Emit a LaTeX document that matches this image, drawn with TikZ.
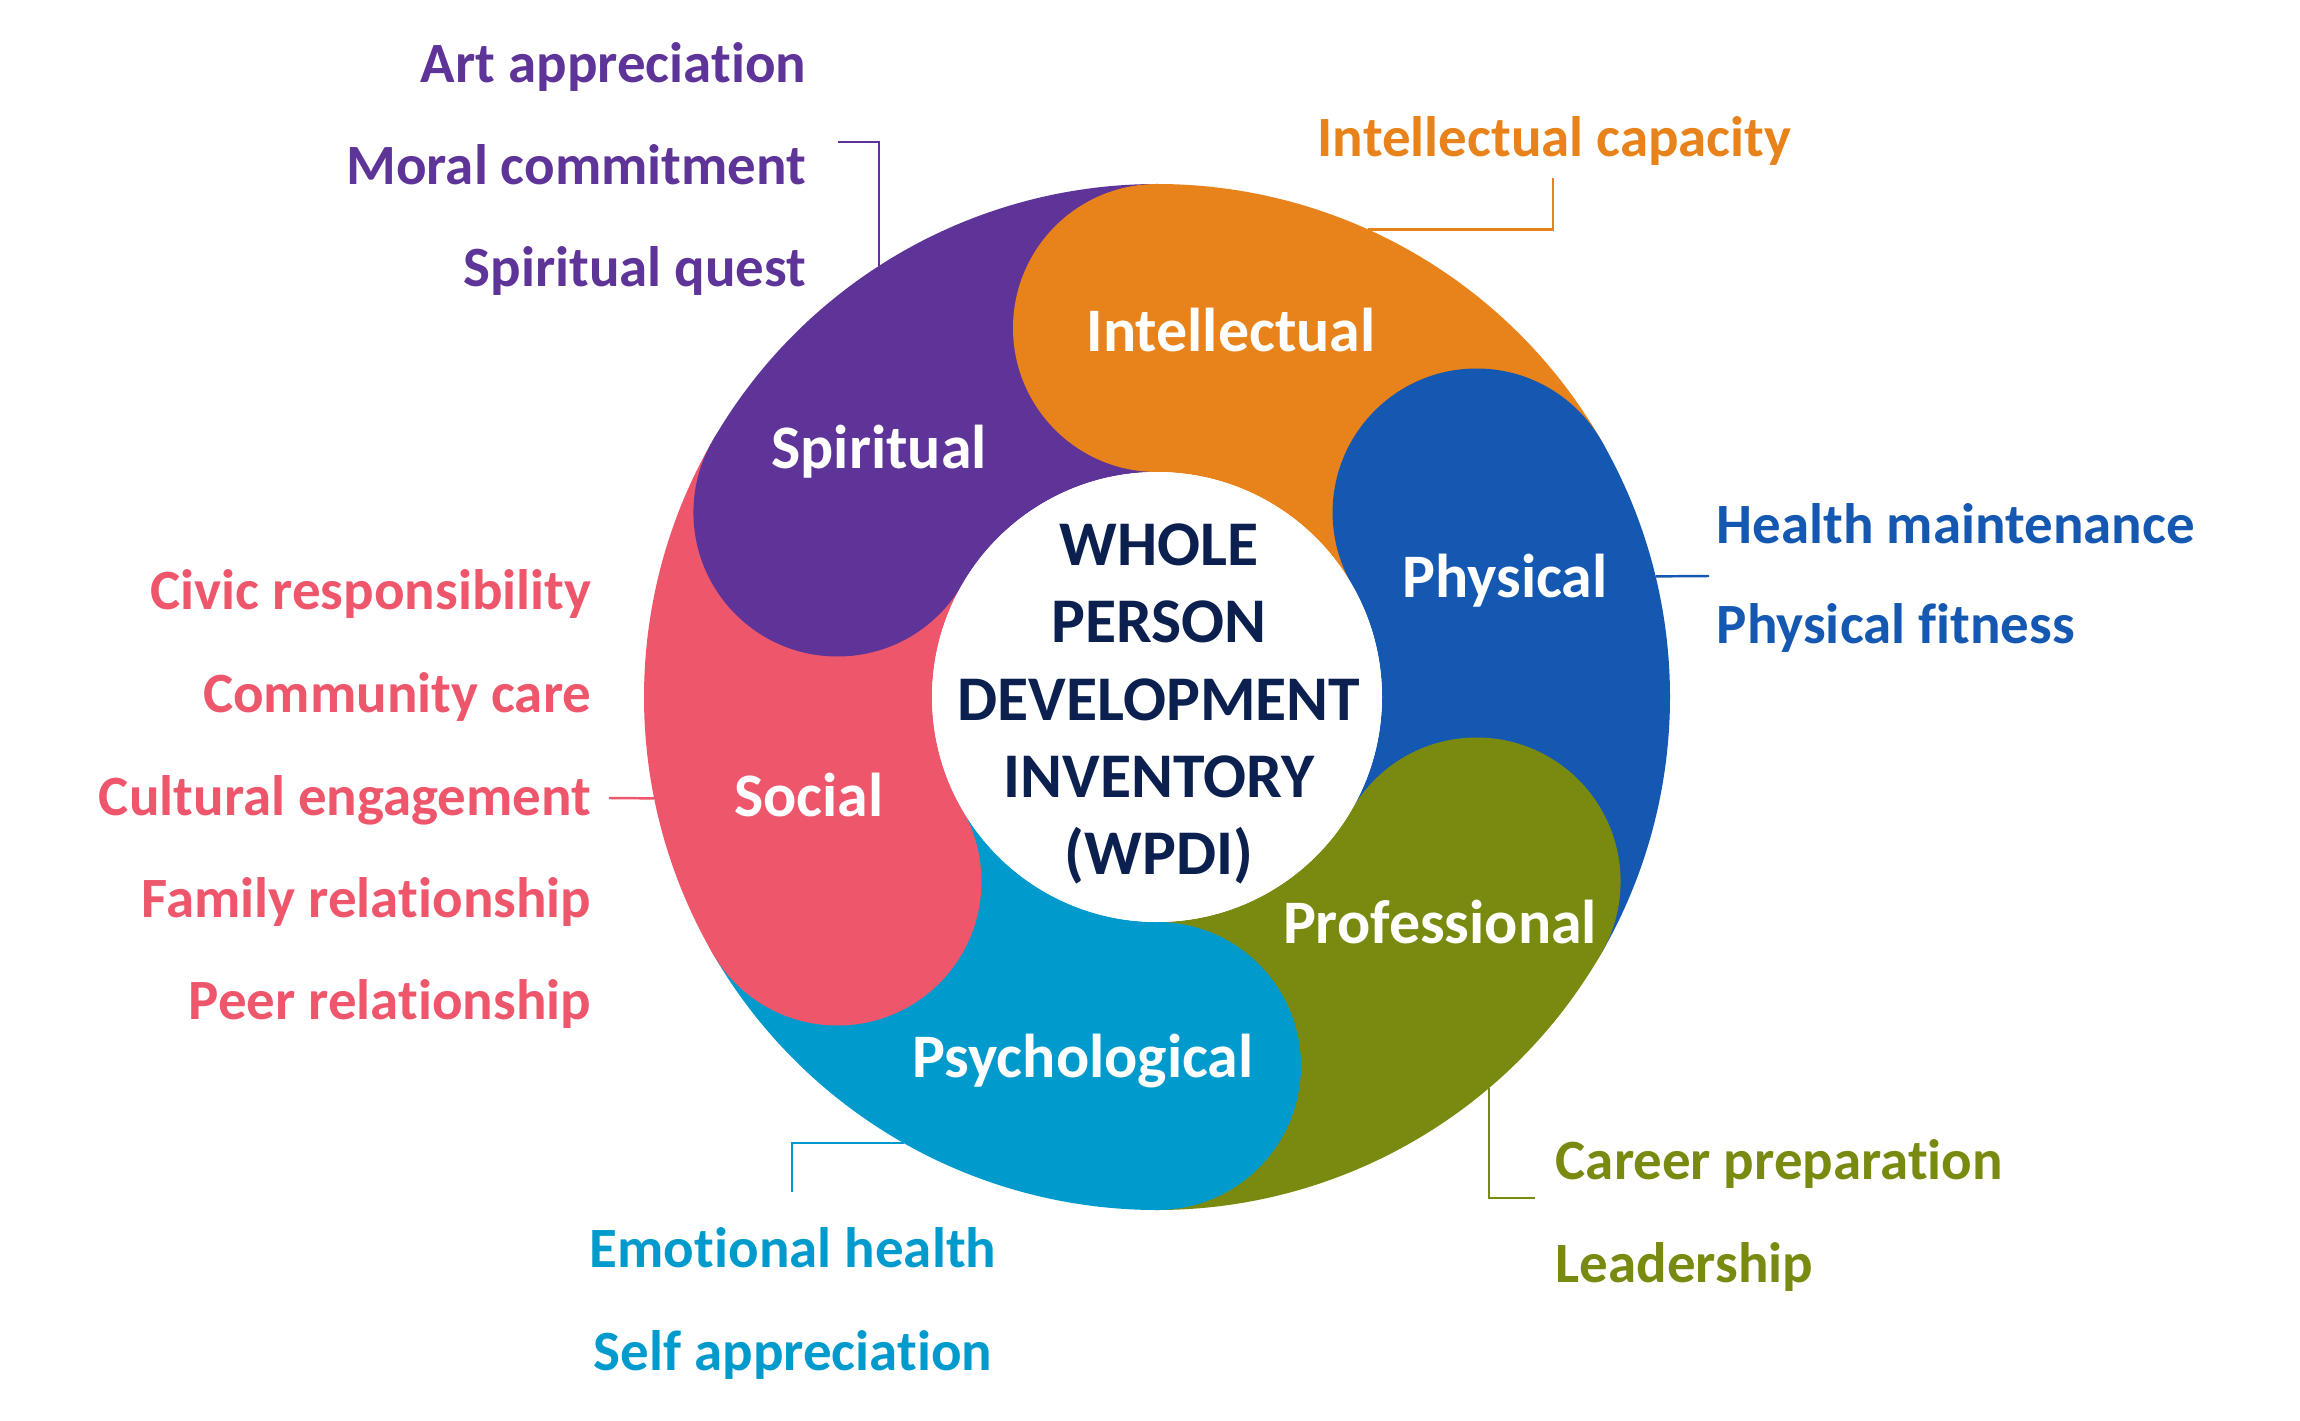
\documentclass[tikz,border=0pt]{standalone}
\usepackage{fontspec}
\setmainfont{Carlito}[Ligatures=CommonOff]
\usepackage{tikz}
\usepackage{color}

\definecolor{spiritual}{HTML}{5F3499}
\definecolor{intellect}{HTML}{E8821A}
\definecolor{physical}{HTML}{1458B2}
\definecolor{profess}{HTML}{7A8A10}
\definecolor{psycho}{HTML}{009BCC}
\definecolor{social}{HTML}{EE566C}
\definecolor{navy}{HTML}{0C2050}

\begin{document}
\begin{tikzpicture}[x=0.01cm, y=0.01cm,
	item/.style={font=\fontsize{16.2}{19}\selectfont\bfseries, inner sep=0},
	seglabel/.style={font=\fontsize{17.6}{21}\selectfont\bfseries, text=white, anchor=base, inner sep=0},
	leader/.style={line width=0.7pt}]
	\useasboundingbox (0,0) rectangle (2300,1420);

	\begin{scope}[shift={(1157,723)}]
		% sectors of the ring
		\fill[spiritual] (90:225) -- (90:513) arc[start angle=90, end angle=150, radius=513] -- (150:225) arc[start angle=150, end angle=90, radius=225] -- cycle;
		\fill[intellect] (30:225) -- (30:513) arc[start angle=30, end angle=90, radius=513] -- (90:225) arc[start angle=90, end angle=30, radius=225] -- cycle;
		\fill[physical] (-30:225) -- (-30:513) arc[start angle=-30, end angle=30, radius=513] -- (30:225) arc[start angle=30, end angle=-30, radius=225] -- cycle;
		\fill[profess] (-90:225) -- (-90:513) arc[start angle=-90, end angle=-30, radius=513] -- (-30:225) arc[start angle=-30, end angle=-90, radius=225] -- cycle;
		\fill[psycho] (-150:225) -- (-150:513) arc[start angle=-150, end angle=-90, radius=513] -- (-90:225) arc[start angle=-90, end angle=-150, radius=225] -- cycle;
		\fill[social] (150:225) -- (150:513) arc[start angle=150, end angle=210, radius=513] -- (210:225) arc[start angle=210, end angle=150, radius=225] -- cycle;

		% round heads
		\fill[spiritual] (150:369) circle (144);
		\fill[intellect] (90:369) circle (144);
		\fill[physical] (30:369) circle (144);
		\fill[profess] (-30:369) circle (144);
		\fill[psycho] (-90:369) circle (144);
		\fill[social] (210:369) circle (144);

		\fill[white] (0,0) circle (225);
		\node[font=\fontsize{18.1}{22}\selectfont\bfseries, text=navy, align=center, inner sep=0] (wpdi) at (2,-7)
			{WHOLE\\PERSON\\DEVELOPMENT\\INVENTORY\\(WPDI)};

		% points on the rim
		\coordinate (spi-c) at (122.8:513);
		\coordinate (int-c) at (65.7:513);
		\coordinate (phy-c) at (13.6:513);
		\coordinate (soc-c) at (191.4:513);
		\coordinate (psy-c) at (240.4:513);
		\coordinate (pro-c) at (310.3:513);
	\end{scope}

	% segment names
	\node[seglabel] (spi) at (879,952) {Spiritual};
	\node[seglabel] (int) at (1231,1068) {Intellectual};
	\node[seglabel] (phy) at (1505,823) {Physical};
	\node[seglabel] (pro) at (1440,477) {Professional};
	\node[seglabel] (psy) at (1083,343) {Psychological};
	\node[seglabel] (soc) at (809,604) {Social};

	% spiritual
	\node[item, text=spiritual, anchor=base east] (art) at (807,1337) {Art appreciation};
	\node[item, text=spiritual, anchor=base east] (moral) at (807,1235) {Moral commitment};
	\node[item, text=spiritual, anchor=base east] (quest) at (807,1133) {Spiritual quest};
	\coordinate (spi-e) at (838,1278);
	\draw[leader, spiritual] (spi-c) |- (spi-e);

	% intellectual
	\node[item, text=intellect, anchor=base west] (capacity) at (1317,1263) {Intellectual capacity};
	\coordinate (int-e) at (1553,1242);
	\draw[leader, intellect] (int-c) -| (int-e);

	% physical
	\node[item, text=physical, anchor=base west] (health) at (1716,877) {Health maintenance};
	\node[item, text=physical, anchor=base west] (fitness) at (1716,777) {Physical fitness};
	\coordinate (phy-e) at (1709,844);
	\draw[leader, physical] (phy-c) -- (phy-e);

	% social
	\node[item, text=social, anchor=base east] (civic) at (592,811) {Civic responsibility};
	\node[item, text=social, anchor=base east] (community) at (592,708) {Community care};
	\node[item, text=social, anchor=base east] (cultural) at (592,605) {Cultural engagement};
	\node[item, text=social, anchor=base east] (family) at (592,503) {Family relationship};
	\node[item, text=social, anchor=base east] (peer) at (592,401) {Peer relationship};
	\coordinate (soc-e) at (609,622);
	\draw[leader, social] (soc-c) -- (soc-e);

	% psychological
	\node[item, text=psycho, anchor=base] (emotional) at (793,153) {Emotional health};
	\node[item, text=psycho, anchor=base] (selfapp) at (793,50) {Self appreciation};
	\coordinate (psy-e) at (792,228);
	\draw[leader, psycho] (psy-c) -| (psy-e);

	% professional
	\node[item, text=profess, anchor=base west] (career) at (1555,241) {Career preparation};
	\node[item, text=profess, anchor=base west] (leader) at (1555,138) {Leadership};
	\coordinate (pro-e) at (1535,222);
	\draw[leader, profess] (pro-c) |- (pro-e);
\end{tikzpicture}
\end{document}
